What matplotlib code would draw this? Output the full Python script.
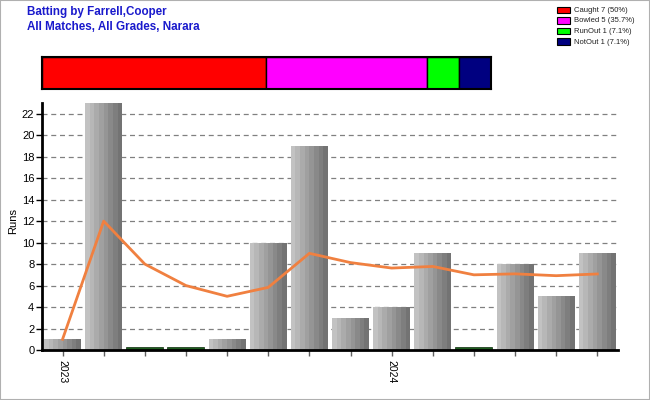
import numpy as np
import matplotlib
matplotlib.use('Agg')
import matplotlib.pyplot as plt
from matplotlib.patches import Rectangle

# innings data
runs = [1, 23, 0, 0, 1, 10, 19, 3, 4, 9, 0, 8, 5, 9]
average = [1, 12, 8, 6, 5, 5.83, 9, 8.14, 7.63, 7.78, 7, 7.09, 6.92, 7.08]
tick_labels = ['2023', '', '', '', '', '', '', '', '2024', '', '', '', '', '']

dismissals = ['Caught', 'Bowled', 'RunOut', 'NotOut']
dismissal_counts = [7, 5, 1, 1]
dismissal_colors = ['#ff0000', '#ff00ff', '#00ff00', '#000080']

plt.rcParams['font.family'] = ['Liberation Sans', 'DejaVu Sans']

fig = plt.figure(figsize=(6.5, 4), dpi=100)
fig.patches.append(Rectangle((0, 0), 1, 1, transform=fig.transFigure,
                             fill=False, edgecolor='#b0b0b0', lw=1.5))

fig.text(0.042, 0.97, 'Batting by Farrell,Cooper', color='#1a1acc',
         fontsize=8.4, fontweight='bold', va='center')
fig.text(0.042, 0.932, 'All Matches, All Grades, Narara', color='#1a1acc',
         fontsize=8.4, fontweight='bold', va='center')

# dismissal strip
sax = fig.add_axes([0.0646, 0.7775, 0.6908, 0.08])
total = sum(dismissal_counts)
left = 0
for n, c in zip(dismissal_counts, dismissal_colors):
    sax.barh(0, n, left=left, height=1, color=c, edgecolor='black', lw=1)
    left += n
sax.set_xlim(0, total)
sax.set_ylim(-0.5, 0.5)
sax.set_xticks([])
sax.set_yticks([])
for s in sax.spines.values():
    s.set_linewidth(1.5)

# legend
for i, (name, n, c) in enumerate(zip(dismissals, dismissal_counts, dismissal_colors)):
    y = 1 - (10.5 + i * 10.5) / 400
    fig.patches.append(Rectangle((557 / 650, y - 2.5 / 400), 13 / 650, 6 / 400,
                                 transform=fig.transFigure, facecolor=c,
                                 edgecolor='black', lw=0.8))
    pct = ('%.1f' % (100 * n / total)).replace('.0', '')
    fig.text(574 / 650, y, '%s %d (%s%%)' % (name, n, pct),
             fontsize=5.5, va='center', color='#202020')

# main chart
ax = fig.add_axes([0.0646, 0.125, 0.886, 0.6175])
x = np.arange(len(runs))
w = 0.9
nstripe = 8
shades = np.linspace(0.76, 0.45, nstripe)
for xi, r in zip(x, runs):
    if r == 0:
        ax.bar(xi, 0.25, width=w, color='#1e5e1e', edgecolor='#0a2a0a', lw=0.5, zorder=2)
        continue
    for k in range(nstripe):
        ax.bar(xi - w / 2 + (k + 0.5) * w / nstripe, r, width=w / nstripe,
               color=str(shades[k]), lw=0, zorder=2)
ax.plot(x, average, color='#f08040', lw=2, zorder=3)

ax.set_xlim(-0.5, len(runs) - 0.5)
ax.set_ylim(0, 23)
ax.set_yticks(range(0, 23, 2))
ax.set_xticks(x)
ax.set_xticklabels(tick_labels, rotation=-90, fontsize=7.5)
ax.tick_params(axis='y', labelsize=8, length=4, width=1, pad=1.5)
ax.tick_params(axis='x', length=4, width=1, color='#606060')
ax.yaxis.grid(True, color='#808080', linestyle=(0, (4, 3)), lw=0.9)
ax.set_axisbelow(True)
for s in ['top', 'right']:
    ax.spines[s].set_visible(False)
ax.spines['left'].set_linewidth(2)
ax.spines['bottom'].set_linewidth(2)
fig.text(13 / 650, 1 - 221 / 400, 'Runs', fontsize=8, rotation=90,
         va='center', ha='center')

plt.savefig('out.png', dpi=100)
plt.close()
